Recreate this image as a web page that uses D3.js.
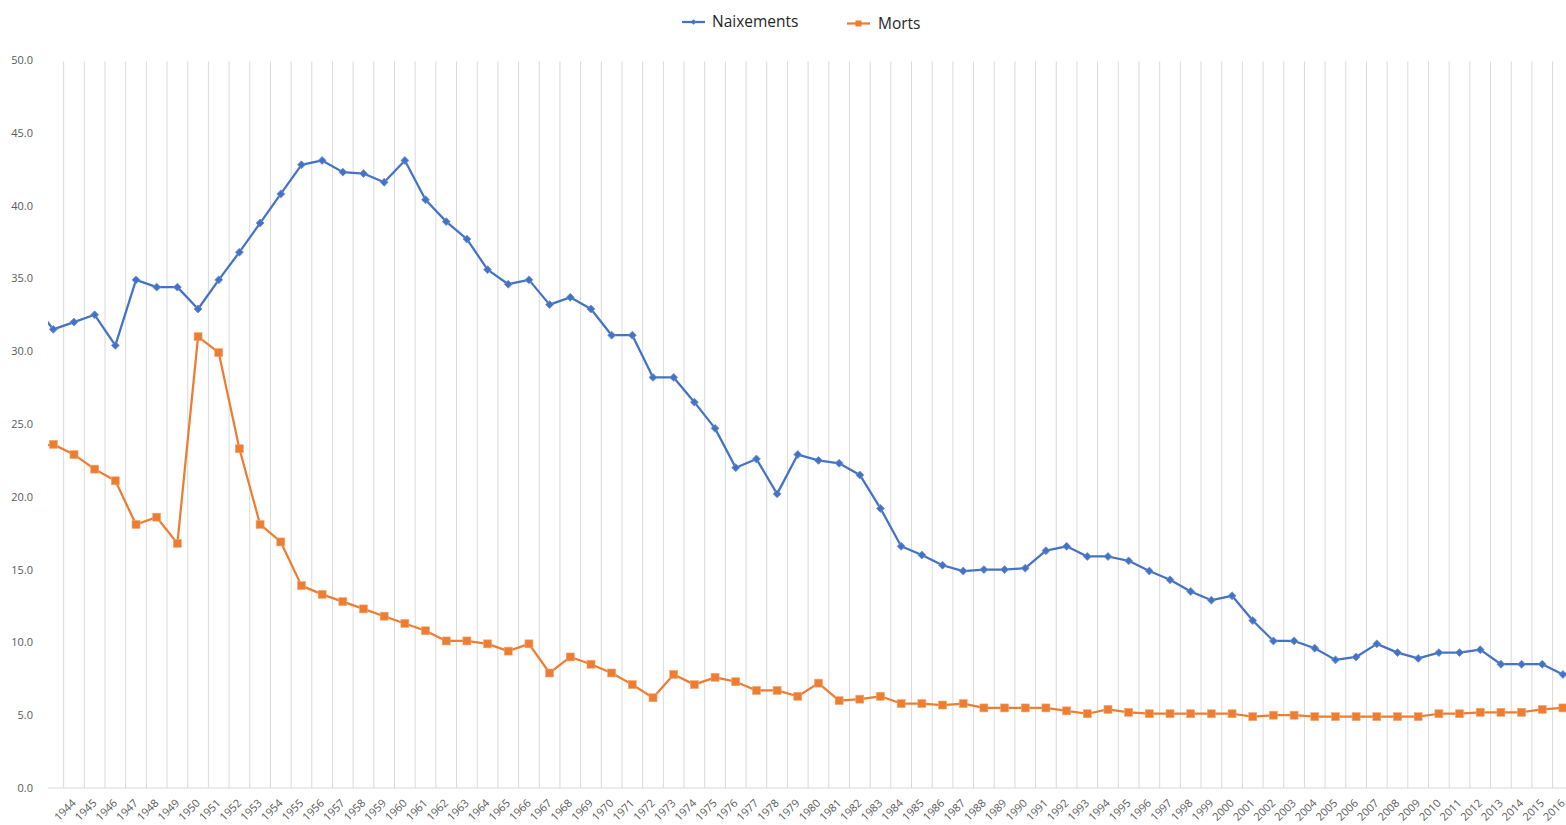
<!DOCTYPE html>
<html>
<head>
<meta charset="utf-8">
<script src="https://cdn.jsdelivr.net/npm/d3@7"></script>
<style>
  html, body { margin: 0; padding: 0; background: #fff; }
  svg { display: block; }
  text { font-family: "Open Sans", "Noto Sans", sans-serif; }
</style>
</head>
<body>
<svg id="chart" width="1566" height="825"></svg>
<script>
const years = [1942,1943,1944,1945,1946,1947,1948,1949,1950,1951,1952,1953,1954,1955,1956,1957,1958,1959,
  1960,1961,1962,1963,1964,1965,1966,1967,1968,1969,1970,1971,1972,1973,1974,1975,1976,1977,1978,1979,
  1980,1981,1982,1983,1984,1985,1986,1987,1988,1989,1990,1991,1992,1993,1994,1995,1996,1997,1998,1999,
  2000,2001,2002,2003,2004,2005,2006,2007,2008,2009,2010,2011,2012,2013,2014,2015,2016];

const naixements = [33.3,31.5,32.0,32.5,30.4,34.9,34.4,34.4,32.9,34.9,36.8,38.8,40.8,42.8,43.1,42.3,42.2,41.6,
  43.1,40.4,38.9,37.7,35.6,34.6,34.9,33.2,33.7,32.9,31.1,31.1,28.2,28.2,26.5,24.7,22.0,22.6,20.2,22.9,
  22.5,22.3,21.5,19.2,16.6,16.0,15.3,14.9,15.0,15.0,15.1,16.3,16.6,15.9,15.9,15.6,14.9,14.3,13.5,12.9,
  13.2,11.5,10.1,10.1,9.6,8.8,9.0,9.9,9.3,8.9,9.3,9.3,9.5,8.5,8.5,8.5,7.8];

const morts = [23.4,23.6,22.9,21.9,21.1,18.1,18.6,16.8,31.0,29.9,23.3,18.1,16.9,13.9,13.3,12.8,12.3,11.8,
  11.3,10.8,10.1,10.1,9.9,9.4,9.9,7.9,9.0,8.5,7.9,7.1,6.2,7.8,7.1,7.6,7.3,6.7,6.7,6.3,
  7.2,6.0,6.1,6.3,5.8,5.8,5.7,5.8,5.5,5.5,5.5,5.5,5.3,5.1,5.4,5.2,5.1,5.1,5.1,5.1,
  5.1,4.9,5.0,5.0,4.9,4.9,4.9,4.9,4.9,4.9,5.1,5.1,5.2,5.2,5.2,5.4,5.5];

const yTicks = [0, 5, 10, 15, 20, 25, 30, 35, 40, 45, 50];
const xTickLabels = [1944,1945,1946,1947,1948,1949,1950,1951,1952,1953,1954,1955,1956,1957,1958,1959,
  1960,1961,1962,1963,1964,1965,1966,1967,1968,1969,1970,1971,1972,1973,1974,1975,1976,1977,1978,1979,
  1980,1981,1982,1983,1984,1985,1986,1987,1988,1989,1990,1991,1992,1993,1994,1995,1996,1997,1998,1999,
  2000,2001,2002,2003,2004,2005,2006,2007,2008,2009,2010,2011,2012,2013,2014,2015,2016];

const seriesNames = ["Naixements", "Morts"];
const seriesColors = ["#4472C4", "#ED7D31"];

const svg = d3.select("#chart");
const step = 20.68;
const firstCenter = 53.3;
const x0 = firstCenter - 1.5 * step;
const x = d3.scaleBand().domain(years).range([x0, x0 + years.length * step]).padding(0);
const y = d3.scaleLinear().domain([0, 50]).range([788, 60]);
const cx = d => x(d) + x.bandwidth() / 2;

const plotLeft = 48, plotRight = 1566;

svg.append("defs").append("clipPath").attr("id", "plotclip")
  .append("rect").attr("x", plotLeft).attr("y", 40).attr("width", plotRight - plotLeft).attr("height", 760);

// vertical gridlines between categories
const grid = svg.append("g");
grid.selectAll("line").data(years.slice(1).filter(d => x(d) > plotLeft && x(d) < plotRight))
  .join("line")
  .attr("x1", d => x(d)).attr("x2", d => x(d))
  .attr("y1", y(50) + 1.5).attr("y2", y(0))
  .attr("stroke", "#d9d9d9").attr("stroke-width", 1);

// baseline
svg.append("line").attr("x1", plotLeft).attr("x2", plotRight)
  .attr("y1", y(0)).attr("y2", y(0)).attr("stroke", "#d9d9d9").attr("stroke-width", 1);

// y axis labels
const yAxis = d3.axisLeft(y).tickValues(yTicks).tickFormat(d3.format(".1f")).tickSize(0).tickPadding(0);
const yg = svg.append("g").attr("transform", "translate(33,0)").call(yAxis);
yg.select(".domain").remove();
yg.selectAll("text").attr("font-size", 11).attr("fill", "#595959")
  .attr("font-family", "'Open Sans', sans-serif");

// x axis labels
const xAxis = d3.axisBottom(x).tickValues(xTickLabels).tickSize(0).tickPadding(0);
const xg = svg.append("g").call(xAxis);
xg.select(".domain").remove();
xg.selectAll(".tick line").remove();
xg.selectAll(".tick").attr("transform", d => `translate(${cx(d)},801)`);
xg.selectAll(".tick text")
  .attr("x", 0).attr("y", 0).attr("dy", "0.35em")
  .attr("transform", "rotate(-45)")
  .attr("text-anchor", "end")
  .attr("font-size", 11)
  .attr("fill", "#595959")
  .attr("font-family", "'Open Sans', sans-serif");

const plot = svg.append("g").attr("clip-path", "url(#plotclip)");
const line = d3.line().x((d, i) => cx(years[i])).y(d => y(d));

const seriesData = [naixements, morts];
seriesData.forEach((vals, si) => {
  plot.append("path").datum(vals)
    .attr("d", line)
    .attr("fill", "none")
    .attr("stroke", seriesColors[si])
    .attr("stroke-width", 2.25)
    .attr("stroke-linejoin", "round");
});

// markers
plot.append("g").selectAll("path").data(naixements).join("path")
  .attr("transform", (d, i) => `translate(${cx(years[i])},${y(d)})`)
  .attr("d", d3.symbol().type(d3.symbolDiamond2).size(40))
  .attr("fill", seriesColors[0]).attr("stroke", "#6a8fd4").attr("stroke-width", 0.8);

plot.append("g").selectAll("rect").data(morts).join("rect")
  .attr("x", (d, i) => cx(years[i]) - 4).attr("y", d => y(d) - 4)
  .attr("width", 8).attr("height", 8)
  .attr("fill", seriesColors[1]).attr("stroke", "#f4a774").attr("stroke-width", 0.6);

// legend
const legendItems = [
  {name: seriesNames[0], color: seriesColors[0], lx: 682, tx: 712, ty: 22},
  {name: seriesNames[1], color: seriesColors[1], lx: 847, tx: 878, ty: 23.5}
];
const lg = svg.append("g");
legendItems.forEach((it, i) => {
  lg.append("line").attr("x1", it.lx).attr("x2", it.lx + 23)
    .attr("y1", it.ty).attr("y2", it.ty)
    .attr("stroke", it.color).attr("stroke-width", 2.25);
  if (i === 0) {
    lg.append("path").attr("transform", `translate(${it.lx + 11.5},${it.ty})`)
      .attr("d", d3.symbol().type(d3.symbolDiamond2).size(18)).attr("fill", it.color);
  } else {
    lg.append("rect").attr("x", it.lx + 8.5).attr("y", it.ty - 3).attr("width", 6).attr("height", 6)
      .attr("fill", it.color);
  }
  lg.append("text").attr("x", it.tx).attr("y", it.ty).attr("dy", "0.35em")
    .attr("font-size", 15.5).attr("fill", "#262626").text(it.name);
});
</script>
</body>
</html>
